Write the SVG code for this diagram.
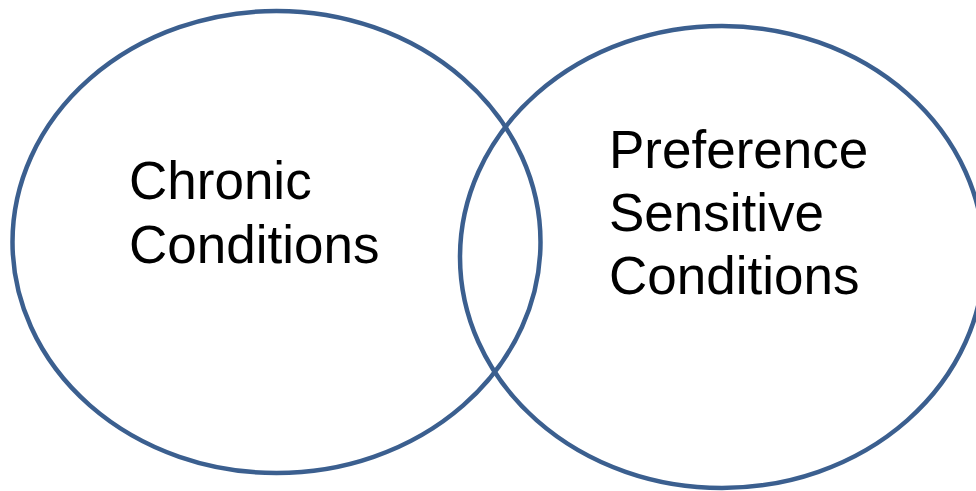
<svg xmlns="http://www.w3.org/2000/svg" width="976" height="491" viewBox="0 0 976 491">
<style>
.c{fill:none;stroke:#3b5f8f;stroke-width:4.5}
.t{font-family:"Liberation Sans",Arial,sans-serif;font-size:53px;fill:#000}
</style>
<rect width="976" height="491" fill="#fff"/>
<g id="chronic">
<ellipse class="c" cx="276.5" cy="242" rx="264" ry="231"/>
<text class="t" x="129" y="199">Chronic</text>
<text class="t" x="129" y="263">Conditions</text>
</g>
<g id="preference">
<ellipse class="c" cx="722" cy="257" rx="262" ry="231"/>
<text class="t" x="609" y="168">Preference</text>
<text class="t" x="609" y="231">Sensitive</text>
<text class="t" x="609" y="294">Conditions</text>
</g>
<g id="connectors"></g>
</svg>
